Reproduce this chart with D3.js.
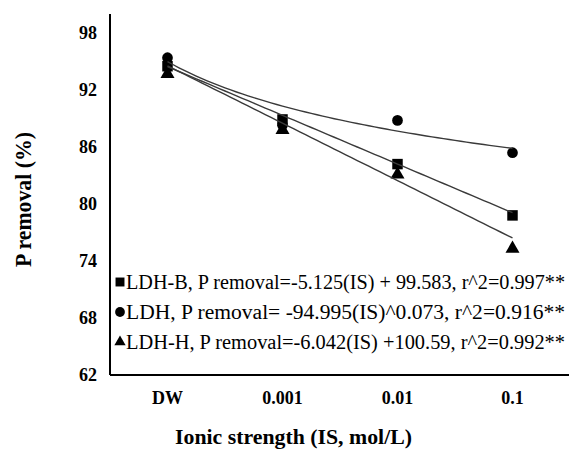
<!DOCTYPE html>
<html>
<head>
<meta charset="utf-8">
<script src="https://cdn.jsdelivr.net/npm/d3@7"></script>
<style>
  html, body { margin: 0; padding: 0; background: #fff; }
  svg { display: block; }
  svg text { font-family: "Liberation Serif", "Times New Roman", serif; }
</style>
</head>
<body>
<svg id="chart" width="569" height="450"></svg>
<script>
// Ionic strength categories (x axis)
const categories = ["DW", "0.001", "0.01", "0.1"];
// Observed P removal (%) per adsorbent
const ldhB = [94.5, 88.9, 84.2, 78.8];
const ldh  = [95.4, 88.3, 88.8, 85.4];
const ldhH = [93.7, 87.8, 83.1, 75.3];
// Y tick values
const yTicks = [62, 68, 74, 80, 86, 92, 98];
// Trendline coefficients (x = category index 1..4)
const fitB = [-5.125, 99.583];   // linear: a*x + b
const fitL = [94.995, -0.073];   // power: a*x^b
const fitH = [-6.042, 100.59];   // linear: a*x + b
const legendLabels = [
  "LDH-B,  P removal=-5.125(IS) + 99.583, r^2=0.997**",
  "LDH,  P removal= -94.995(IS)^0.073, r^2=0.916**",
  "LDH-H, P removal=-6.042(IS) +100.59, r^2=0.992**"
];

const svg = d3.select("#chart");
const plotL = 110, plotR = 570, plotT = 14, plotB = 375;

const x = d3.scaleBand().domain(categories).range([plotL, plotR]);
const xc = c => x(c) + x.bandwidth() / 2;
const xi = d3.scaleLinear().domain([1, 4]).range([xc(categories[0]), xc(categories[3])]);
const y = d3.scaleLinear().domain([62, 100]).range([plotB, plotT]);

// Axes
const yAxis = svg.append("g").attr("transform", `translate(${plotL},0)`)
  .call(d3.axisLeft(y).tickValues(yTicks).tickSize(0).tickPadding(13).tickFormat(d3.format("d")));
const xAxis = svg.append("g").attr("transform", `translate(0,${plotB})`)
  .call(d3.axisBottom(x).tickSize(0).tickPadding(16));
[yAxis, xAxis].forEach(g => {
  g.attr("font-family", null).attr("font-size", null);
  g.select(".domain").attr("stroke", "#000").attr("stroke-width", 2);
  g.selectAll("text").attr("font-weight", "bold")
    .attr("font-size", 18).attr("fill", "#000");
});
yAxis.select(".domain").attr("d", `M0,${plotT}V${plotB}`);
xAxis.select(".domain").attr("d", `M${plotL},0H${plotR}`);

// Axis titles
svg.append("text").attr("x", 175).attr("y", 444)
  .attr("font-weight", "bold").attr("font-size", 21)
  .attr("textLength", 237).attr("lengthAdjust", "spacingAndGlyphs")
  .text("Ionic strength (IS, mol/L)");
svg.append("text").attr("transform", "translate(31,267) rotate(-90)")
  .attr("font-weight", "bold").attr("font-size", 24)
  .attr("textLength", 135).attr("lengthAdjust", "spacingAndGlyphs")
  .text("P removal (%)");

// Trendlines
const idx = d3.range(1, 4.001, 0.05);
const lineGen = d3.line().x(d => xi(d[0])).y(d => y(d[1]));
const trends = [
  idx.map(t => [t, fitB[0] * t + fitB[1]]),
  idx.map(t => [t, fitL[0] * Math.pow(t, fitL[1])]),
  idx.map(t => [t, fitH[0] * t + fitH[1]])
];

// Markers
const symSq = d3.symbol().type(d3.symbolSquare).size(110);
const symCi = d3.symbol().type(d3.symbolCircle).size(90);
const symTr = d3.symbol().type(d3.symbolTriangle).size(85);
const series = [
  { vals: ldhB, sym: symSq },
  { vals: ldh, sym: symCi },
  { vals: ldhH, sym: symTr }
];
series.forEach(s => {
  svg.append("g").selectAll("path").data(s.vals).join("path")
    .attr("d", s.sym)
    .attr("transform", (d, i) => `translate(${xc(categories[i])},${y(d)})`)
    .attr("fill", "#000");
});
trends.forEach(t => {
  svg.append("path").attr("d", lineGen(t)).attr("fill", "none")
    .attr("stroke", "#3a3a3a").attr("stroke-width", 1.4);
});

// Legend
const leg = svg.append("g");
const legSyms = [
  d3.symbol().type(d3.symbolSquare).size(80),
  d3.symbol().type(d3.symbolCircle).size(75),
  d3.symbol().type(d3.symbolTriangle).size(55)
];
legendLabels.forEach((lab, i) => {
  const yy = 282 + i * 30;
  leg.append("path").attr("d", legSyms[i]).attr("transform", `translate(120,${yy})`).attr("fill", "#000");
  leg.append("text").attr("x", 126).attr("y", yy + 7)
    .attr("font-size", 20).attr("fill", "#000")
    .attr("textLength", 439).attr("lengthAdjust", "spacingAndGlyphs")
    .text(lab);
});
</script>
</body>
</html>
